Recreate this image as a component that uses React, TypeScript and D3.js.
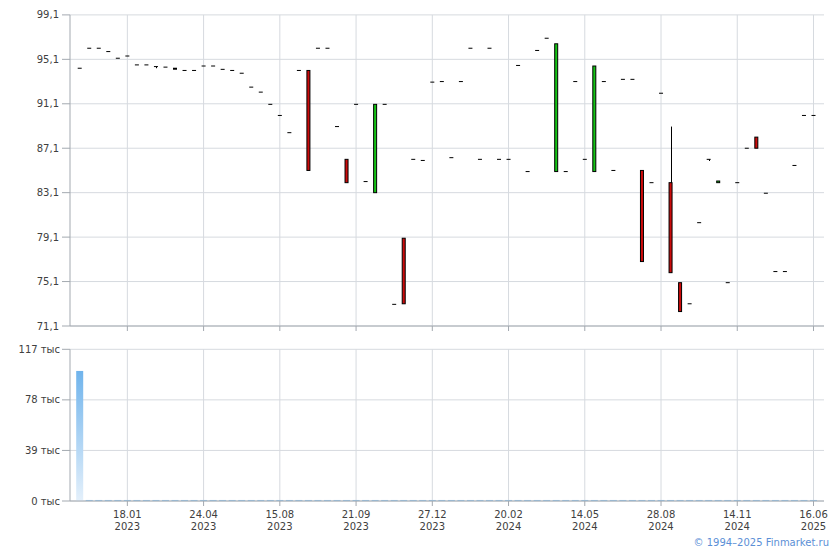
import React from "react";
import * as d3 from "d3";

// OHLC per trading session (index = category position)
const opens = [94.3,96.1,96.1,95.8,95.2,95.4,94.6,94.6,94.45,94.4,94.3,94.1,94.1,94.5,94.5,94.2,94.1,93.85,92.6,92.15,91.05,90.05,88.5,94.1,94.1,96.1,96.1,89.05,86.1,91.05,84.1,83.1,91.05,73.05,79.0,86.1,86.0,93.05,93.1,86.25,93.1,96.1,86.1,96.1,86.1,86.1,94.55,85.0,95.9,97.0,85.0,85.0,93.1,86.1,85.0,93.1,85.1,93.3,93.3,85.1,84.0,92.05,84.0,75.0,73.1,80.4,86.1,84.0,75.0,84.0,87.1,88.1,83.05,76.0,76.0,85.55,90.05,90.05];
const closes = [94.3,96.1,96.1,95.8,95.2,95.4,94.6,94.6,94.45,94.4,94.2,94.1,94.1,94.5,94.5,94.2,94.1,93.85,92.6,92.15,91.05,90.05,88.5,94.1,85.1,96.1,96.1,89.05,84.0,91.05,84.1,91.05,91.05,73.05,73.1,86.1,86.0,93.05,93.1,86.25,93.1,96.1,86.1,96.1,86.1,86.1,94.55,85.0,95.9,97.0,96.5,85.0,93.1,86.1,94.5,93.1,85.1,93.3,93.3,76.9,84.0,92.05,75.9,72.4,73.1,80.4,86.1,84.15,75.0,84.0,87.1,87.1,83.05,76.0,76.0,85.55,90.05,90.05];
const highs = [94.3,96.1,96.1,95.8,95.2,95.4,94.6,94.6,94.45,94.4,94.3,94.1,94.1,94.5,94.5,94.2,94.1,93.85,92.6,92.15,91.05,90.05,88.5,94.1,94.1,96.1,96.1,89.05,86.1,91.05,84.1,91.05,91.05,73.05,79.0,86.1,86.0,93.05,93.1,86.25,93.1,96.1,86.1,96.1,86.1,86.1,94.55,85.0,95.9,97.0,96.5,85.0,93.1,86.1,94.5,93.1,85.1,93.3,93.3,85.1,84.0,92.05,89.05,75.0,73.1,80.4,86.1,84.15,75.0,84.0,87.1,88.1,83.05,76.0,76.0,85.55,90.05,90.05];
const lows = [94.3,96.1,96.1,95.8,95.2,95.4,94.6,94.6,94.3,94.4,94.2,94.1,94.1,94.5,94.5,94.2,94.1,93.85,92.6,92.15,91.05,90.05,88.5,94.1,85.1,96.1,96.1,89.05,84.0,91.05,84.1,83.1,91.05,73.05,73.1,86.1,86.0,93.05,93.1,86.25,93.1,96.1,86.1,96.1,86.1,86.1,94.55,85.0,95.9,97.0,85.0,85.0,93.1,86.1,85.0,93.1,85.1,93.3,93.3,76.9,84.0,92.05,75.9,72.4,73.1,80.4,85.95,84.0,75.0,84.0,87.1,87.1,83.05,76.0,76.0,85.55,90.05,90.05];
// volume, thousands
const volumes = [100.3,0.8,0.8,0.8,0.8,0.8,0.8,0.8,0.8,0.8,0.8,0.8,0.8,0.8,0.8,0.8,0.8,0.8,0.8,0.8,0.8,0.8,0.8,0.8,0.8,0.8,0.8,0.8,0.8,0.8,0.8,0.8,0.8,0.8,0.8,0.8,0.8,0.8,0.8,0.8,0.8,0.8,0.8,0.8,0.8,0.8,0.8,0.8,0.8,0.8,0.8,0.8,0.8,0.8,0.8,0.8,0.8,0.8,0.8,0.8,0.8,0.8,0.8,0.8,0.8,0.8,0.8,0.8,0.8,0.8,0.8,0.8,0.8,0.8,0.8,0.8,0.8,0.8];

const tickIdx = [5, 13, 21, 29, 37, 45, 53, 61, 69, 77];
const tickDay = ["18.01", "24.04", "15.08", "21.09", "27.12", "20.02", "14.05", "28.08", "14.11", "16.06"];
const tickYear = ["2023", "2023", "2023", "2023", "2023", "2024", "2024", "2024", "2024", "2025"];
const priceTicks = [99.1, 95.1, 91.1, 87.1, 83.1, 79.1, 75.1, 71.1];
const volTicks = [0, 39, 78, 117];

const FONT = "'DejaVu Sans', Verdana, sans-serif";
const GRID = "#d6dadf";
const AXIS = "#a3a9b0";
const TXT = "#404040";

export default function App() {
  const idx = d3.range(opens.length);
  const x = d3.scaleLinear().domain([0, 77]).range([79.7, 813.5]);
  const y = d3.scaleLinear().domain([71.1, 99.1]).range([326, 14.9]);
  const yv = d3.scaleLinear().domain([0, 117]).range([501, 349.3]);
  const L = 70, R = 824;
  const fmt = (v: number) => d3.format(".1f")(v).replace(".", ",");

  return (
    <svg width={840} height={550} style={{ position: "absolute", left: 0, top: 0, background: "#fff" }}
      fontFamily={FONT} fontSize={10}>
      <defs>
        <linearGradient id="vg" x1="0" y1="0" x2="0" y2="1">
          <stop offset="0" stopColor="#70b4ec" />
          <stop offset="1" stopColor="#e4f0fb" />
        </linearGradient>
      </defs>

      {/* price panel grid */}
      {priceTicks.map((t) => (
        <line key={"pg" + t} x1={L} x2={R} y1={y(t)} y2={y(t)} stroke={GRID} />
      ))}
      {tickIdx.map((i) => (
        <line key={"pv" + i} x1={x(i)} x2={x(i)} y1={y(99.1)} y2={326} stroke={GRID} />
      ))}
      {/* price axes */}
      <line x1={L} x2={L} y1={y(99.1)} y2={326} stroke={AXIS} />
      <line x1={L} x2={R} y1={326} y2={326} stroke={AXIS} />
      {priceTicks.map((t) => (
        <g key={"pt" + t}>
          <line x1={62} x2={L} y1={y(t)} y2={y(t)} stroke={AXIS} />
          <text x={59} y={y(t)} dy="0.35em" textAnchor="end" fill={TXT}>{fmt(t)}</text>
        </g>
      ))}
      {tickIdx.map((i) => (
        <line key={"ptk" + i} x1={x(i)} x2={x(i)} y1={326} y2={331} stroke={AXIS} />
      ))}

      {/* candles */}
      {idx.map((i) => {
        const cx = x(i);
        const o = opens[i], c = closes[i], h = highs[i], l = lows[i];
        const top = y(Math.max(o, c)), bot = y(Math.min(o, c));
        const els = [];
        if (y(h) < top - 0.5 || y(l) > bot + 0.5) {
          els.push(<line key="w" x1={Math.round(cx) + 0.5} x2={Math.round(cx) + 0.5} y1={y(h)} y2={y(l)} stroke="#000" />);
        }
        if (o === c) {
          els.push(<rect key="d" x={cx - 2} y={top - 0.5} width={4} height={1} fill="#000" />);
        } else if (bot - top < 1.2) {
          els.push(<rect key="d" x={cx - 2} y={top - 0.5} width={4} height={2} fill="#000" />);
        } else {
          els.push(
            <rect key="b" x={cx - 1.5} y={top} width={3} height={bot - top}
              fill={c > o ? "#14c414" : "#cc0a0a"} stroke="#000" strokeWidth={1} />
          );
        }
        return <g key={"c" + i}>{els}</g>;
      })}

      {/* volume panel */}
      {volTicks.map((t) => (
        <line key={"vg" + t} x1={L} x2={R} y1={yv(t)} y2={yv(t)} stroke={GRID} />
      ))}
      {tickIdx.map((i) => (
        <line key={"vv" + i} x1={x(i)} x2={x(i)} y1={yv(117)} y2={501} stroke={GRID} />
      ))}
      {idx.map((i) => {
        const hgt = Math.max(1, yv(0) - yv(volumes[i]));
        return (
          <rect key={"vb" + i} x={x(i) - 3.5} y={501 - hgt} width={7} height={hgt}
            fill={hgt > 3 ? "url(#vg)" : "#92c5ee"} />
        );
      })}
      <line x1={L} x2={L} y1={yv(117)} y2={501} stroke={AXIS} />
      <line x1={L} x2={R} y1={501} y2={501} stroke={AXIS} />
      {volTicks.map((t) => (
        <g key={"vt" + t}>
          <line x1={62} x2={L} y1={yv(t)} y2={yv(t)} stroke={AXIS} />
          <text x={60} y={yv(t)} dy="0.35em" textAnchor="end" fill={TXT}>{t + " тыс"}</text>
        </g>
      ))}
      {tickIdx.map((i, k) => (
        <g key={"xt" + i}>
          <line x1={x(i)} x2={x(i)} y1={501} y2={506} stroke={AXIS} />
          <text x={x(i)} y={514} dy="0.35em" textAnchor="middle" fill={TXT}>{tickDay[k]}</text>
          <text x={x(i)} y={526} dy="0.35em" textAnchor="middle" fill={TXT}>{tickYear[k]}</text>
        </g>
      ))}

      <text x={829} y={542} dy="0.35em" textAnchor="end" fill="#5b8fd6">© 1994–2025 Finmarket.ru</text>
    </svg>
  );
}
